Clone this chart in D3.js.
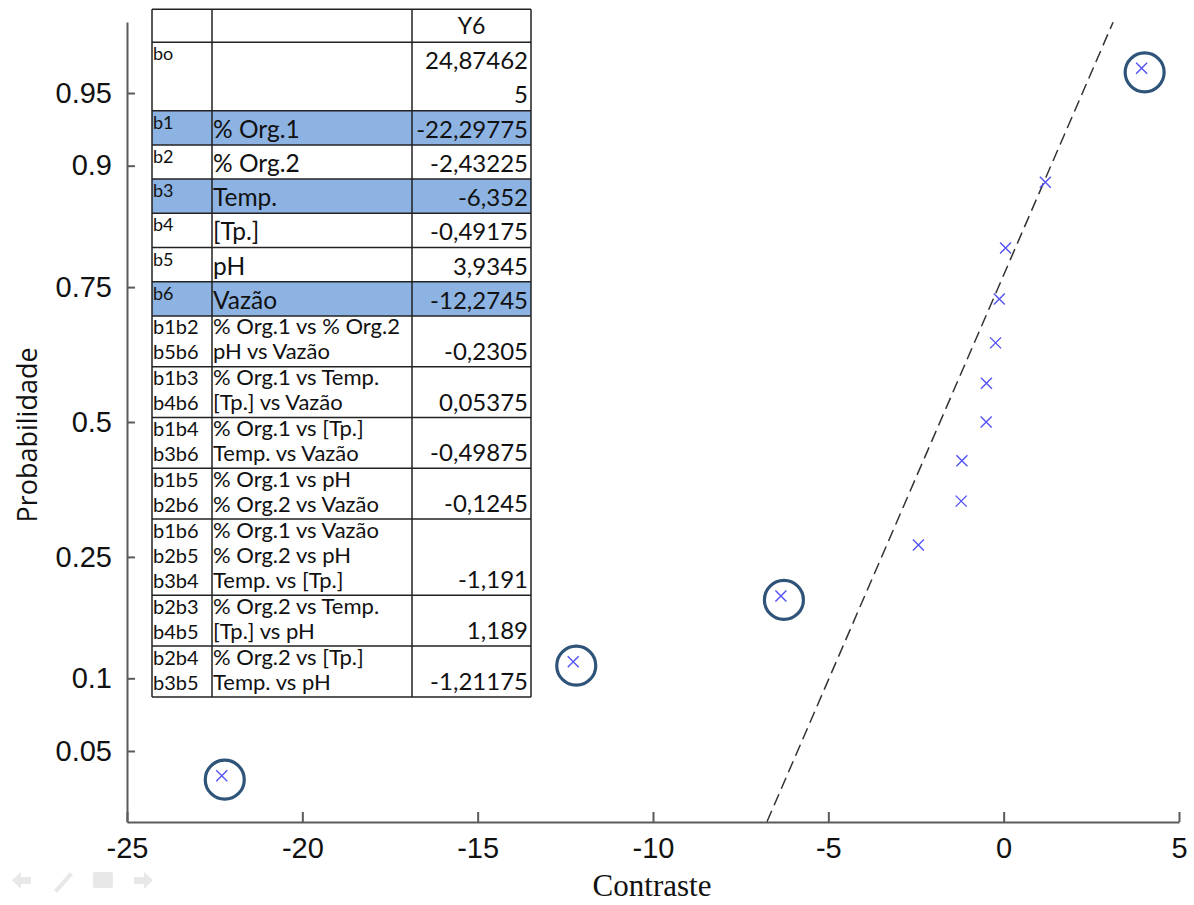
<!DOCTYPE html>
<html>
<head>
<meta charset="utf-8">
<script src="https://cdn.jsdelivr.net/npm/d3@7"></script>
<style>
body{margin:0;background:#fff;}
</style>
</head>
<body>
<script>
var canvaswidth=1194;
var canvasheight=905;

// normal probability plot: contrasts (sorted) and their plotting probabilities
var contrast=[-22.29775,-12.2745,-6.352,-2.43225,-1.21175,-1.191,-0.49875,-0.49175,-0.2305,-0.1245,0.05375,1.189,3.9345];
var probability=[0.0385,0.1154,0.1923,0.2692,0.3462,0.4231,0.5,0.5769,0.6538,0.7308,0.8077,0.8846,0.9615];
var circled=[-22.29775,-12.2745,-6.352,3.9345]; //effects marked as significant
var refContrast=[-6.75,3.12]; //dashed reference line
var refProb=[0.0228,0.9772];
var xTicks=[-25,-20,-15,-10,-5,0,5];
var yTicks=[0.05,0.1,0.25,0.5,0.75,0.9,0.95];

// coefficient table
var colHeader=["","","Y6"];
var rowCodes=[["bo"],["b1"],["b2"],["b3"],["b4"],["b5"],["b6"],["b1b2","b5b6"],["b1b3","b4b6"],["b1b4","b3b6"],["b1b5","b2b6"],["b1b6","b2b5","b3b4"],["b2b3","b4b5"],["b2b4","b3b5"]];
var rowNames=[[""],["% Org.1"],["% Org.2"],["Temp."],["[Tp.]"],["pH"],["Vazão"],["% Org.1 vs % Org.2","pH vs Vazão"],["% Org.1 vs Temp.","[Tp.] vs Vazão"],["% Org.1 vs [Tp.]","Temp. vs Vazão"],["% Org.1 vs pH","% Org.2 vs Vazão"],["% Org.1 vs Vazão","% Org.2 vs pH","Temp. vs [Tp.]"],["% Org.2 vs Temp.","[Tp.] vs pH"],["% Org.2 vs [Tp.]","Temp. vs pH"]];
var coefY6=[24.874625,-22.29775,-2.43225,-6.352,-0.49175,3.9345,-12.2745,-0.2305,0.05375,-0.49875,-0.1245,-1.191,1.189,-1.21175];
var highlighted=["b1","b3","b6"];

function probit(p) { //inverse normal cdf (Acklam)
	var a=[-39.69683028665376,220.9460984245205,-275.9285104469687,138.3577518672690,-30.66479806614716,2.506628277459239];
	var b=[-54.47609879822406,161.5858368580409,-155.6989798598866,66.80131188771972,-13.28068155288572];
	var c=[-0.007784894002430293,-0.3223964580411365,-2.400758277161838,-2.549732539343734,4.374664141464968,2.938163982698783];
	var d=[0.007784695709041462,0.3224671290700398,2.445134137142996,3.754408661907416];
	var q,r;
	if (p<0.02425) {
		q=Math.sqrt(-2*Math.log(p));
		return (((((c[0]*q+c[1])*q+c[2])*q+c[3])*q+c[4])*q+c[5])/((((d[0]*q+d[1])*q+d[2])*q+d[3])*q+1);
	}
	if (p>1-0.02425) {
		q=Math.sqrt(-2*Math.log(1-p));
		return -(((((c[0]*q+c[1])*q+c[2])*q+c[3])*q+c[4])*q+c[5])/((((d[0]*q+d[1])*q+d[2])*q+d[3])*q+1);
	}
	q=p-0.5; r=q*q;
	return (((((a[0]*r+a[1])*r+a[2])*r+a[3])*r+a[4])*r+a[5])*q/(((((b[0]*r+b[1])*r+b[2])*r+b[3])*r+b[4])*r+1);
}

var svg=d3.select("body").append("svg").attr("width",canvaswidth).attr("height",canvasheight);

var x=d3.scaleLinear().domain([-25,5]).range([127,1179]);
var yz=d3.scaleLinear().domain([-2,2]).range([822,22]); //normal quantile scale
function y(p) { return yz(probit(p)); }

// axes
var xAxis=svg.append("g").attr("transform","translate(0,822)")
	.call(d3.axisBottom(x).tickValues(xTicks).tickSizeInner(-10).tickSizeOuter(0).tickPadding(15).tickFormat(function(d){return String(d)}));
var yAxis=svg.append("g").attr("transform","translate(127,0)")
	.call(d3.axisLeft(yz).tickValues(yTicks.map(probit)).tickSizeInner(-8).tickSizeOuter(0).tickPadding(15).tickFormat(function(d,i){return String(yTicks[i])}));
[xAxis,yAxis].forEach(function(g) {
	g.select(".domain").attr("stroke","#5a5a5a").attr("stroke-width",2);
	g.selectAll(".tick line").attr("stroke","#5a5a5a").attr("stroke-width",2);
	g.selectAll("text").attr("font-family","'Liberation Sans',Arial,sans-serif").attr("font-size",29).attr("fill","#111");
});

svg.append("text").attr("x",652).attr("y",896).attr("text-anchor","middle").attr("font-family","'Liberation Serif','Times New Roman',serif").attr("font-size",31).attr("fill","#111").text("Contraste");
svg.append("text").attr("transform","translate(37,435) rotate(-90)").attr("text-anchor","middle").attr("font-family","'Open Sans',sans-serif").attr("font-size",27).attr("fill","#111").text("Probabilidade");

// reference line
svg.append("path").datum(d3.zip(refContrast,refProb))
	.attr("d",d3.line().x(function(d){return x(d[0])}).y(function(d){return y(d[1])}))
	.attr("fill","none").attr("stroke","#333").attr("stroke-width",1.5).attr("stroke-dasharray","12,6");

// points
var pts=d3.zip(contrast,probability);
svg.selectAll(".pt").data(pts).enter().append("path").attr("class","pt")
	.attr("d","M-5.5,-5.5L5.5,5.5M-5.5,5.5L5.5,-5.5")
	.attr("transform",function(d){return "translate("+x(d[0])+","+y(d[1])+")"})
	.attr("stroke","#5252f5").attr("stroke-width",1.4).attr("fill","none");

svg.selectAll(".ring").data(pts.filter(function(d){return circled.indexOf(d[0])>=0})).enter().append("circle").attr("class","ring")
	.attr("cx",function(d){return x(d[0])+3}).attr("cy",function(d){return y(d[1])+4}).attr("r",19.5)
	.attr("fill","none").attr("stroke","#2f5479").attr("stroke-width",3.2);

// table
var tfont="Lato,'Open Sans',sans-serif";
var colX=[152,212,412,531];
var table=svg.append("g");
var measure=svg.append("text").attr("font-family",tfont).attr("font-size",24);
function wrapValue(str,maxw) { //excel style char wrap
	var lines=[],cur="";
	for (var k=0;k<str.length;k++) {
		measure.text(cur+str[k]);
		if (measure.node().getComputedTextLength()>maxw && cur.length>0) { lines.push(cur); cur=str[k]; }
		else cur=cur+str[k];
	}
	lines.push(cur);
	return lines;
}

var rowTop=9.3;
// header row
table.append("text").attr("x",(colX[2]+colX[3])/2).attr("y",rowTop+25).attr("text-anchor","middle").attr("font-family",tfont).attr("font-size",23).attr("fill","#111").text(colHeader[2]);
var rowTops=[rowTop];
rowTop=rowTop+33;
rowCodes.forEach(function(codes,i) {
	var multi=codes.length>1;
	var valStr=String(coefY6[i]).replace(".",",");
	var valLines=multi?[valStr]:wrapValue(valStr,colX[3]-colX[2]-4);
	var h=multi?25.4*codes.length:34.2*valLines.length;
	if (highlighted.indexOf(codes[0])>=0)
		table.append("rect").attr("x",colX[0]).attr("y",rowTop).attr("width",colX[3]-colX[0]).attr("height",h).attr("fill","#8db3e2");
	if (multi) {
		codes.forEach(function(c,j) {
			table.append("text").attr("x",colX[0]+1).attr("y",rowTop+18.5+j*25).attr("font-family",tfont).attr("font-size",20).attr("fill","#111").text(c);
			table.append("text").attr("x",colX[1]+1).attr("y",rowTop+18.5+j*25).attr("font-family",tfont).attr("font-size",22).attr("fill","#111").text(rowNames[i][j]);
		});
		table.append("text").attr("x",colX[3]-3).attr("y",rowTop+h-7).attr("text-anchor","end").attr("font-family",tfont).attr("font-size",24).attr("fill","#111").text(valStr);
	} else {
		table.append("text").attr("x",colX[0]+1).attr("y",rowTop+18).attr("font-family",tfont).attr("font-size",18).attr("fill","#111").text(codes[0]);
		table.append("text").attr("x",colX[1]+1).attr("y",rowTop+27).attr("font-family",tfont).attr("font-size",24.5).attr("fill","#111").text(rowNames[i][0]);
		valLines.forEach(function(v,j) {
			table.append("text").attr("x",colX[3]-3).attr("y",rowTop+27+j*33.5).attr("text-anchor","end").attr("font-family",tfont).attr("font-size",24).attr("fill","#111").text(v);
		});
	}
	rowTops.push(rowTop);
	rowTop=rowTop+h;
});
rowTops.push(rowTop);
measure.remove();

// grid lines of the table
rowTops.forEach(function(t) {
	table.append("line").attr("x1",colX[0]).attr("x2",colX[3]).attr("y1",t).attr("y2",t).attr("stroke","#222").attr("stroke-width",1.5);
});
colX.forEach(function(c) {
	table.append("line").attr("x1",c).attr("x2",c).attr("y1",rowTops[0]).attr("y2",rowTop).attr("stroke","#222").attr("stroke-width",1.5);
});

// faint slide navigation icons, bottom left
var nav=svg.append("g").attr("fill","#e8e8e8").attr("stroke","none");
nav.append("path").attr("d","M12,880 L21,872 L21,877 L31,877 L31,884 L21,884 L21,889 Z");
nav.append("path").attr("d","M54,890 L70,872 L73,875 L57,893 Z");
nav.append("rect").attr("x",93).attr("y",872).attr("width",20).attr("height",16).attr("rx",2);
nav.append("path").attr("d","M153,880 L144,872 L144,877 L134,877 L134,884 L144,884 L144,889 Z");
</script>
</body>
</html>
